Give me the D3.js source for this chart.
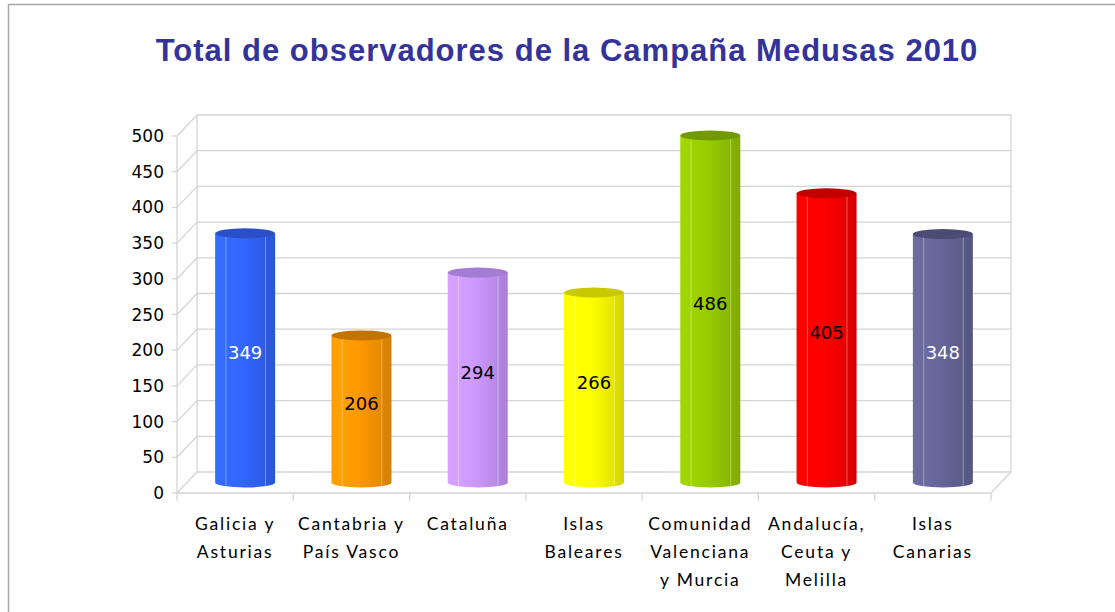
<!DOCTYPE html>
<html>
<head>
<meta charset="utf-8">
<script src="https://cdnjs.cloudflare.com/ajax/libs/d3/7.8.5/d3.min.js"></script>
<style>
  body { margin: 0; background: #fff; }
</style>
</head>
<body>
<svg id="chart" width="1115" height="612"></svg>
<script>
const titleText = "Total de observadores de la Campaña Medusas 2010";
const categories = [
  ["Galicia y", "Asturias"],
  ["Cantabria y", "País Vasco"],
  ["Cataluña"],
  ["Islas", "Baleares"],
  ["Comunidad", "Valenciana", "y Murcia"],
  ["Andalucía,", "Ceuta y", "Melilla"],
  ["Islas", "Canarias"]
];
const values = [349, 206, 294, 266, 486, 405, 348];
const barColors = ["#3366ff", "#ff9900", "#cc99ff", "#ffff00", "#99cc00", "#ff0000", "#666699"];
const capColors = ["#2a50c8", "#c27300", "#a47cd4", "#c9c900", "#729a00", "#c20000", "#4b4b76"];
const labelColors = ["#fff", "#000", "#000", "#000", "#000", "#000", "#fff"];
const yTicks = [0, 50, 100, 150, 200, 250, 300, 350, 400, 450, 500];

const svg = d3.select("#chart");
const gridColor = "#d4d4d4";

// frame
svg.append("rect")
  .attr("x", 8.5).attr("y", 4.5)
  .attr("width", 1200).attr("height", 700)
  .attr("fill", "none").attr("stroke", "#a8a8a8").attr("stroke-width", 1.5);

svg.append("text")
  .attr("x", 567).attr("y", 61)
  .attr("text-anchor", "middle")
  .style("font-family", "'Liberation Sans', Arial, sans-serif")
  .style("font-weight", "bold")
  .style("font-size", "31px")
  .style("letter-spacing", "1px")
  .style("fill", "#333399")
  .text(titleText);

// 3d geometry
const x0 = 177, x1 = 991;
const dx = 20, dy = -21;
const y = d3.scaleLinear().domain([0, 500]).range([493, 136]);
const x = d3.scaleBand().domain(d3.range(categories.length)).range([x0, x1]);

const grid = svg.append("g").attr("stroke", gridColor).attr("fill", "none").attr("stroke-width", 1.3);

// back wall gridlines + left wall slants
yTicks.forEach(v => {
  const yy = y(v);
  grid.append("line").attr("x1", x0 + dx).attr("x2", x1 + dx).attr("y1", yy + dy).attr("y2", yy + dy);
  grid.append("line").attr("x1", x0).attr("x2", x0 + dx).attr("y1", yy).attr("y2", yy + dy);
  grid.append("line").attr("x1", x0 - 5).attr("x2", x0).attr("y1", yy).attr("y2", yy);
});
// wall verticals
grid.append("line").attr("x1", x0 + dx).attr("x2", x0 + dx).attr("y1", y(500) + dy).attr("y2", y(0) + dy);
grid.append("line").attr("x1", x1 + dx).attr("x2", x1 + dx).attr("y1", y(500) + dy).attr("y2", y(0) + dy);
grid.append("line").attr("x1", x0).attr("x2", x0).attr("y1", y(500)).attr("y2", y(0));
// floor
grid.append("line").attr("x1", x0).attr("x2", x1).attr("y1", y(0)).attr("y2", y(0));
grid.append("line").attr("x1", x1).attr("x2", x1 + dx).attr("y1", y(0)).attr("y2", y(0) + dy);
// category ticks
d3.range(categories.length + 1).forEach(i => {
  const xx = x0 + i * x.bandwidth();
  grid.append("line").attr("x1", xx).attr("x2", xx).attr("y1", y(0)).attr("y2", y(0) + 8);
});

// y labels
svg.append("g").selectAll("text").data(yTicks).join("text")
  .attr("x", 164).attr("y", d => y(d) + 6)
  .attr("text-anchor", "end")
  .style("font-family", "'DejaVu Sans', Verdana, sans-serif")
  .style("font-size", "17px")
  .style("fill", "#000")
  .text(d => d);

// gradients
const defs = svg.append("defs");
barColors.forEach((c, i) => {
  const base = d3.color(c);
  const g = defs.append("linearGradient").attr("id", "grad" + i)
    .attr("x1", "0%").attr("x2", "100%").attr("y1", "0%").attr("y2", "0%");
  const stops = [
    [0, base.brighter(0.15)], [0.2, base.brighter(0.1)], [0.45, base],
    [0.7, base.darker(0.2)], [0.84, base.darker(0.3)], [0.86, base.darker(0.4)], [1, base.darker(0.5)]
  ];
  stops.forEach(s => g.append("stop").attr("offset", s[0]).attr("stop-color", s[1]));
});

// bars (cylinders at mid depth)
const bw = 60, ry = 5;
const bars = svg.append("g").selectAll("g").data(values).join("g");
bars.each(function(v, i) {
  const g = d3.select(this);
  const cx = x(i) + x.bandwidth() / 2 + dx / 2;
  const left = cx - bw / 2;
  const bottom = y(0) + dy / 2;
  const top = y(v) + dy / 2;
  g.append("path")
    .attr("d", `M${left},${top} L${left},${bottom} A${bw / 2},${ry} 0 0 0 ${left + bw},${bottom} L${left + bw},${top} Z`)
    .attr("fill", `url(#grad${i})`);
  [0.18, 0.84].forEach(f => {
    g.append("line")
      .attr("x1", left + bw * f).attr("x2", left + bw * f)
      .attr("y1", top + 3).attr("y2", bottom + ry * 0.8)
      .attr("stroke", "#fff").attr("stroke-opacity", 0.35).attr("stroke-width", 1);
  });
  g.append("ellipse")
    .attr("cx", cx).attr("cy", top).attr("rx", bw / 2).attr("ry", ry)
    .attr("fill", capColors[i]);
  g.append("text")
    .attr("x", cx).attr("y", (top + bottom) / 2 + 1)
    .attr("text-anchor", "middle")
    .style("font-family", "'DejaVu Sans', Verdana, sans-serif")
    .style("font-size", "18px")
    .style("fill", labelColors[i])
    .text(v);
});

// category labels
const cat = svg.append("g");
categories.forEach((lines, i) => {
  const t = cat.append("text")
    .attr("x", x(i) + x.bandwidth() / 2)
    .attr("text-anchor", "middle")
    .style("font-family", "Lato, 'Open Sans', sans-serif")
    .style("font-size", "17.5px")
    .style("letter-spacing", "1.8px")
    .style("fill", "#000");
  lines.forEach((l, k) => {
    t.append("tspan").attr("x", x(i) + x.bandwidth() / 2).attr("y", 530 + k * 28).text(l);
  });
});
</script>
</body>
</html>
